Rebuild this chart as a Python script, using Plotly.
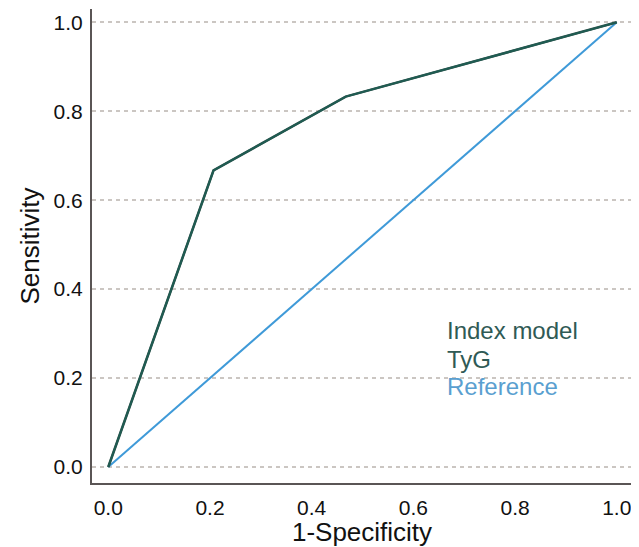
import plotly.graph_objects as go

fpr_index = [0.0, 0.207, 0.467, 1.0]
tpr_index = [0.0, 0.667, 0.833, 1.0]
fpr_tyg = [0.0, 0.207, 0.467, 1.0]
tpr_tyg = [0.0, 0.667, 0.833, 1.0]
ref_x = [0.0, 1.0]
ref_y = [0.0, 1.0]
tick_vals = [0.0, 0.2, 0.4, 0.6, 0.8, 1.0]
tick_text = ["0.0", "0.2", "0.4", "0.6", "0.8", "1.0"]
legend_names = ["Index model", "TyG", "Reference"]

c_index = "#1f5c52"
c_tyg = "#2f4f4a"
c_ref = "#3f9ad8"

fig = go.Figure()
fig.add_trace(go.Scatter(x=ref_x, y=ref_y, mode="lines", line=dict(color=c_ref, width=2), name=legend_names[2]))
fig.add_trace(go.Scatter(x=fpr_tyg, y=tpr_tyg, mode="lines", line=dict(color=c_tyg, width=2.6), name=legend_names[1]))
fig.add_trace(go.Scatter(x=fpr_index, y=tpr_index, mode="lines", line=dict(color=c_index, width=2), name=legend_names[0]))

font = "Liberation Sans, Arial, sans-serif"
legend_colors = ["#2f5a55", "#2f5a55", "#5a9fd0"]
legend_y = [0.306, 0.241, 0.180]
for name, col, yy in zip(legend_names, legend_colors, legend_y):
    fig.add_annotation(x=0.663, y=yy, xref="x", yref="y", text=name,
                       showarrow=False, xanchor="left", yanchor="middle",
                       font=dict(family=font, size=24, color=col))

# page body has an 8px margin; size/margins compensate so the plot lands where the reference has it
fig.update_layout(
    width=631, height=539,
    margin=dict(l=84, r=7, t=1, b=64),
    plot_bgcolor="white", paper_bgcolor="white",
    showlegend=False,
    font=dict(family=font, size=21, color="#111"),
)
fig.update_xaxes(range=[-0.032, 1.03], tickvals=tick_vals, ticktext=tick_text,
                 showgrid=False, zeroline=False, showline=True, linecolor="#5a5555", linewidth=2,
                 ticks="", ticklabelstandoff=5, automargin=False,
                 title=dict(text="1-Specificity", font=dict(size=26), standoff=5))
fig.update_yaxes(range=[-0.036, 1.03], tickvals=tick_vals, ticktext=tick_text,
                 showgrid=True, gridcolor="#cbc6c2", griddash="4px,4px", gridwidth=1.5,
                 zeroline=False, showline=True, linecolor="#5a5555", linewidth=2,
                 ticks="", ticklabelstandoff=3, automargin=False,
                 title=dict(text="Sensitivity", font=dict(size=26), standoff=6))

fig.write_html("out.html")
